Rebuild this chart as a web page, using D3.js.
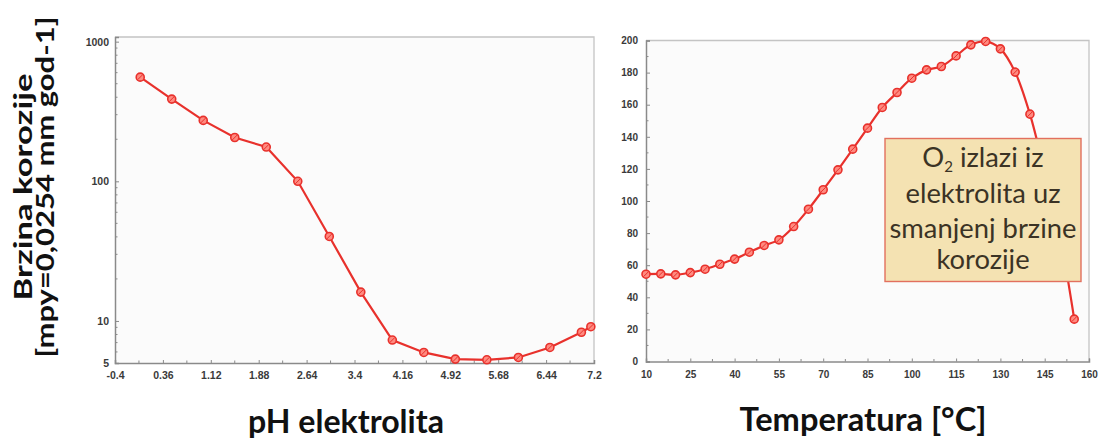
<!DOCTYPE html>
<html><head><meta charset="utf-8">
<script src="https://cdn.jsdelivr.net/npm/d3@7"></script>
<style>
html,body{margin:0;padding:0;background:#fff;}
svg{display:block;}
</style></head>
<body><svg id="c" width="1099" height="439"></svg>
<script>
// ---- data ----
const phValues = [0.0, 0.5, 1.0, 1.5, 2.0, 2.5, 3.0, 3.5, 4.0, 4.5, 5.0, 5.5, 6.0, 6.5, 7.0, 7.15];
const phRates  = [557, 388, 273, 206, 176, 100, 40.3, 16.1, 7.3, 5.95, 5.33, 5.27, 5.48, 6.46, 8.3, 9.1];
const phTicks  = [-0.4, 0.36, 1.12, 1.88, 2.64, 3.4, 4.16, 4.92, 5.68, 6.44, 7.2];
const phTickLabels = ["-0.4","0.36","1.12","1.88","2.64","3.4","4.16","4.92","5.68","6.44","7.2"];
const rateTicks = [5, 10, 100, 1000];

const tempValues = [10,15,20,25,30,35,40,45,50,55,60,65,70,75,80,85,90,95,100,105,110,115,120,125,130,135,140,145,150,155];
const tempRates  = [54.4,54.6,54.0,55.4,57.5,60.6,63.8,68.1,72.3,75.8,84.1,94.9,107,119.4,132.3,145.4,158.3,167.6,176.5,181.7,183.8,190.4,197.3,199.4,194.8,180.3,154.1,118,80,26.4];
const tempTicks  = [10,25,40,55,70,85,100,115,130,145,160];
const tempRateTicks = [0,20,40,60,80,100,120,140,160,180,200];

const yTitle = ["Brzina korozije", "[mpy=0,0254 mm god-1]"];
const xTitles = ["pH elektrolita", "Temperatura [°C]"];
const noteLines = ["O", "elektrolita uz", "smanjenj brzine", "korozije"];

// ---- drawing ----
const svg = d3.select("#c");
const RED = "#e8312c";
const AX = "#8a8a8a";
const FR = "#c4c4c4";
const TICKFONT = "'Liberation Sans Narrow','Liberation Sans',Arial,sans-serif";
const BIG = "Lato,'Open Sans',sans-serif";

function fit(sel, w){
  const n = sel.node();
  const cur = parseFloat(sel.attr("font-size"));
  const len = n.getComputedTextLength();
  sel.attr("font-size", cur * w / len);
}

function panel(o){
  const g = svg.append("g");
  g.append("rect").attr("x", o.x0).attr("y", o.y0).attr("width", o.x1-o.x0).attr("height", o.y1-o.y0)
    .attr("fill", "#fbfbfb");
  g.append("path").attr("d", `M${o.x0},${o.y0}H${o.x1}V${o.y1}`).attr("fill","none").attr("stroke",FR).attr("stroke-width",1.3);
  const xa = g.append("g").attr("transform", `translate(0,${o.y1})`)
    .call(d3.axisBottom(o.x).tickValues(o.xticks).tickSize(-3).tickPadding(9).tickFormat((d,i)=>o.xlabels[i]));
  const ya = g.append("g").attr("transform", `translate(${o.x0},0)`)
    .call(d3.axisLeft(o.y).tickValues(o.yticks).tickSize(-4).tickPadding(o.ypad).tickFormat(o.yfmt));
  [xa, ya].forEach(a=>{
    a.select(".domain").attr("stroke", AX).attr("stroke-width", 1.5);
    a.selectAll(".tick line").attr("stroke", AX).attr("stroke-width", 1);
    a.selectAll("text").attr("fill", "#3a3a3a").attr("font-family", TICKFONT).attr("font-weight","bold").attr("font-size", o.fs);
  });
  g.append("g").selectAll("line").data(o.xminor).join("line")
    .attr("x1", d=>o.x(d)).attr("x2", d=>o.x(d)).attr("y1", o.y1).attr("y2", o.y1-2.5)
    .attr("stroke", AX).attr("stroke-width", 1);
  g.append("g").selectAll("line").data(o.yminor).join("line")
    .attr("y1", d=>o.y(d)).attr("y2", d=>o.y(d)).attr("x1", o.x0).attr("x2", o.x0+2.5)
    .attr("stroke", AX).attr("stroke-width", 1);
  const pts = o.xs.map((v,i)=>[v, o.ys[i]]);
  g.append("path").datum(pts)
    .attr("d", d3.line().x(d=>o.x(d[0])).y(d=>o.y(d[1])).curve(o.curve))
    .attr("fill","none").attr("stroke", RED).attr("stroke-width", 2.2);
  const m = g.append("g").selectAll("g").data(pts).join("g")
    .attr("transform", d=>`translate(${o.x(d[0])},${o.y(d[1])})`);
  m.append("circle").attr("r", 4).attr("fill", "#ff8a80").attr("stroke", RED).attr("stroke-width", 1.6);
  m.append("line").attr("x1",-2.6).attr("y1",2.6).attr("x2",2.6).attr("y2",-2.6).attr("stroke",RED).attr("stroke-width",1);
  return g;
}

// left panel (pH)
const xL = d3.scaleLinear().domain([-0.4, 7.2]).range([115, 594]);
const yL = d3.scaleLog().domain([5, 1080]).range([363, 37]);
const phMinor = phTicks.slice(0,-1).map(d=>d+0.38);
const logMinor = [];
[10,100].forEach(b=>{ for(let k=2;k<=9;k++) logMinor.push(b*k); });
[6,7,8,9].forEach(v=>logMinor.push(v));
panel({x0:115, x1:594, y0:37, y1:363, x:xL, y:yL, xticks:phTicks, xlabels:phTickLabels,
  yticks:rateTicks, yfmt:d=>String(d), ypad:6, fs:10.5, xminor:phMinor, yminor:logMinor,
  xs:phValues, ys:phRates, curve:d3.curveLinear});

// right panel (temperature)
const xR = d3.scaleLinear().domain([10, 160]).range([646, 1089]);
const yR = d3.scaleLinear().domain([0, 200]).range([361.5, 40.5]);
const tMinor = tempTicks.slice(0,-1).map(d=>d+7.5);
const rMinor = tempRateTicks.slice(0,-1).map(d=>d+10);
panel({x0:646, x1:1089, y0:40.5, y1:361.5, x:xR, y:yR, xticks:tempTicks, xlabels:tempTicks.map(String),
  yticks:tempRateTicks, yfmt:d=>String(d), ypad:8, fs:10, xminor:tMinor, yminor:rMinor,
  xs:tempValues, ys:tempRates, curve:d3.curveCatmullRom.alpha(0.5)});

// annotation box
svg.append("rect").attr("x", 885).attr("y", 138.5).attr("width", 196).attr("height", 143)
  .attr("fill", "#f4e2b2").attr("stroke", "#e2705e").attr("stroke-width", 1.4);
const noteBase = [167, 203, 238, 269];
const nt = svg.append("g").attr("font-family", BIG).attr("fill", "#3b3325");
const l3 = nt.append("text").attr("x", 983).attr("y", noteBase[2]).attr("text-anchor","middle").attr("font-size", 24).text(noteLines[2]);
fit(l3, 187);
const nfs = parseFloat(l3.attr("font-size"));
const l1 = nt.append("text").attr("x", 983).attr("y", noteBase[0]).attr("text-anchor","middle").attr("font-size", nfs);
l1.append("tspan").text(noteLines[0]);
l1.append("tspan").attr("font-size", nfs*0.55).attr("dy", 5).text("2");
l1.append("tspan").attr("dy", -5).text(" izlazi iz");
nt.append("text").attr("x", 983).attr("y", noteBase[1]).attr("text-anchor","middle").attr("font-size", nfs).text(noteLines[1]);
nt.append("text").attr("x", 983).attr("y", noteBase[3]).attr("text-anchor","middle").attr("font-size", nfs).text(noteLines[3]);

// axis titles
const t1 = svg.append("text").attr("x", 346).attr("y", 433).attr("text-anchor","middle")
  .attr("font-family", BIG).attr("font-weight","bold").attr("font-size", 28).attr("fill","#111").text(xTitles[0]);
fit(t1, 196);
const t2 = svg.append("text").attr("x", 863).attr("y", 431).attr("text-anchor","middle")
  .attr("font-family", BIG).attr("font-weight","bold").attr("font-size", 28).attr("fill","#111").text(xTitles[1]);
fit(t2, 247);

// y title: two rotated lines, same glyph height, stretched along the text to the reference lengths
[[yTitle[0], 32, 227], [yTitle[1], 54, 341]].forEach(([txt, bx, w])=>{
  const s = svg.append("text").attr("text-anchor","middle").attr("x", 0).attr("y", 0)
    .attr("font-family", BIG).attr("font-weight","bold").attr("font-size", 24).attr("fill","#111").text(txt);
  const len = s.node().getComputedTextLength();
  s.attr("transform", `translate(${bx},187) rotate(-90) scale(${w/len},1)`);
});
</script>
</body></html>
